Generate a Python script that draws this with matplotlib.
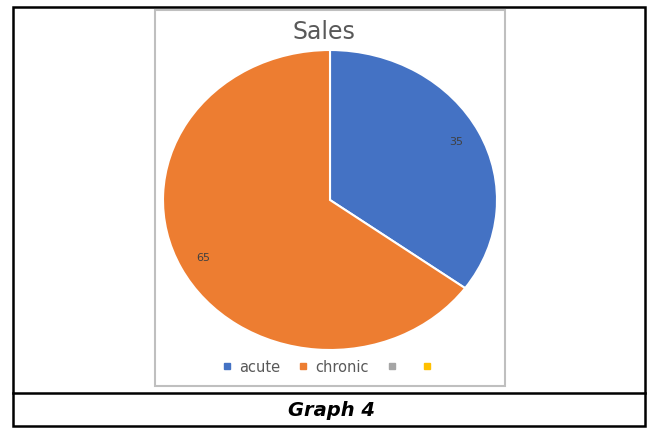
import matplotlib
matplotlib.use('Agg')
import matplotlib.pyplot as plt
from matplotlib.patches import Rectangle
from matplotlib.lines import Line2D

# Datos del gráfico
categorias = ['acute', 'chronic', '', '']
valores = [35, 65]
colores = ['#4472C4', '#ED7D31', '#A5A5A5', '#FFC000']
titulo = 'Sales'
pie_texto = 'Graph 4'

W, H = 652, 428
fig = plt.figure(figsize=(W / 100, H / 100), dpi=100)

# Capa de fondo en píxeles (marco de la tabla y del gráfico)
bg = fig.add_axes([0, 0, 1, 1])
bg.set_xlim(0, W)
bg.set_ylim(H, 0)
bg.axis('off')
bg.add_patch(Rectangle((13, 7), 632, 419, fill=False, ec='black', lw=1.8))
bg.plot([13, 645], [393, 393], color='black', lw=1.8)
bg.add_patch(Rectangle((155, 10), 350, 376, fill=False, ec='#BFBFBF', lw=1.5))
bg.text(324, 32, titulo, ha='center', va='center', fontsize=17, color='#595959')
bg.text(331, 410, pie_texto, ha='center', va='center', fontsize=14,
        fontweight='bold', fontstyle='italic', color='black')

# Pastel (ligeramente elíptico como en el original)
cx, cy, rx, ry = 330, 200, 167, 150
ax = fig.add_axes([(cx - rx) / W, (H - cy - ry) / H, 2 * rx / W, 2 * ry / H])
total = sum(valores)
wedges, textos, autotextos = ax.pie(
    valores, colors=colores[:len(valores)], startangle=90, counterclock=False,
    wedgeprops=dict(edgecolor='white', linewidth=1.5),
    autopct=lambda p: f'{p * total / 100:.0f}', pctdistance=0.85,
    textprops=dict(fontsize=8, color='#404040'))
ax.set_aspect('auto')
ax.set_xlim(-1, 1)
ax.set_ylim(-1, 1)
ax.axis('off')

# Leyenda inferior con las cuatro categorías
handles = [Line2D([], [], marker='s', linestyle='none', markersize=4,
                  markerfacecolor=c, markeredgecolor=c) for c in colores]
fig.legend(handles, categorias, loc='center', bbox_to_anchor=(330 / W, 1 - 367 / H),
           ncol=4, frameon=False, fontsize=10.5, labelcolor='#595959',
           handlelength=0.8, handletextpad=0.4, columnspacing=1.2)

fig.savefig('out.png', dpi=100)
